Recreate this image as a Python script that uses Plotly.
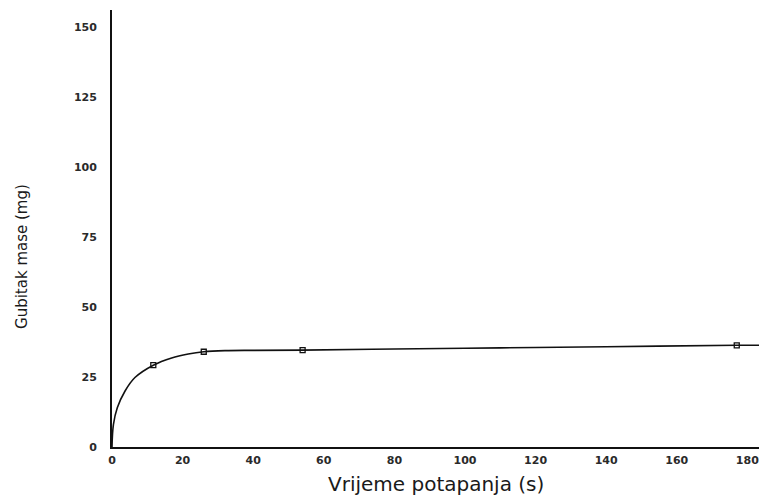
import plotly.graph_objects as go

# measured points (open square markers)
point_x = [11.7, 26, 54, 177]
point_y = [29.2, 34.0, 34.6, 36.3]

# fitted curve
curve_x = [0, 0.4, 1.5, 3.7, 6.5, 11.7, 16.9, 21.6, 26, 32, 40, 54, 80, 110, 140, 177, 184]
curve_y = [0, 8, 14, 20, 24.8, 29.2, 31.8, 33.2, 34.0, 34.4, 34.5, 34.6, 35.0, 35.4, 35.8, 36.3, 36.3]

x_ticks = [0, 20, 40, 60, 80, 100, 120, 140, 160, 180]
y_ticks = [0, 25, 50, 75, 100, 125, 150]

x_title = "Vrijeme potapanja (s)"
y_title = "Gubitak mase (mg)"

fig = go.Figure()
fig.add_trace(go.Scatter(x=curve_x, y=curve_y, mode="lines",
                         line=dict(color="#111111", width=1.6, shape="spline", smoothing=1.0),
                         hoverinfo="skip", showlegend=False))
fig.add_trace(go.Scatter(x=point_x, y=point_y, mode="markers",
                         marker=dict(symbol="square-open", size=5, color="#111111",
                                     line=dict(width=1.3, color="#111111")),
                         showlegend=False))

tick_font = dict(family="DejaVu Sans, sans-serif", size=11, color="#2a2a2a", weight="bold")
title_font_x = dict(family="DejaVu Sans, sans-serif", size=20, color="#1a1a1a", weight="normal")
title_font_y = dict(family="DejaVu Sans, sans-serif", size=15, color="#1a1a1a", weight="normal")

fig.update_layout(
    width=759, height=496,
    margin=dict(l=112, r=0, t=10, b=49),
    paper_bgcolor="white", plot_bgcolor="white",
    font=tick_font,
    xaxis=dict(range=[0, 183.3], tickmode="array", tickvals=x_ticks,
               ticktext=[str(v) for v in x_ticks], showgrid=False, zeroline=False,
               showline=True, linecolor="#111111", linewidth=1.6, ticks="", ticklen=0,
               ticklabelstandoff=2, ticklabeloverflow="allow", tickfont=tick_font),
    yaxis=dict(range=[0, 156], tickmode="array", tickvals=y_ticks,
               ticktext=[str(v) for v in y_ticks], showgrid=False, zeroline=False,
               showline=True, linecolor="#111111", linewidth=1.8, ticks="", ticklen=0,
               ticklabelstandoff=11, tickfont=tick_font),
    annotations=[
        dict(text=x_title, xref="paper", yref="paper", x=0.5, y=-0.0847,
             xanchor="center", yanchor="middle", showarrow=False, font=title_font_x),
        dict(text=y_title, xref="paper", yref="paper", x=-0.139, y=0.435,
             xanchor="center", yanchor="middle", showarrow=False, textangle=-90,
             font=title_font_y),
    ],
)

# remove the default page margin so the figure fills the window exactly
fig.write_html("out.html",
               config={"displayModeBar": False},
               post_script="document.body.style.margin='0';document.body.style.overflow='hidden';")
